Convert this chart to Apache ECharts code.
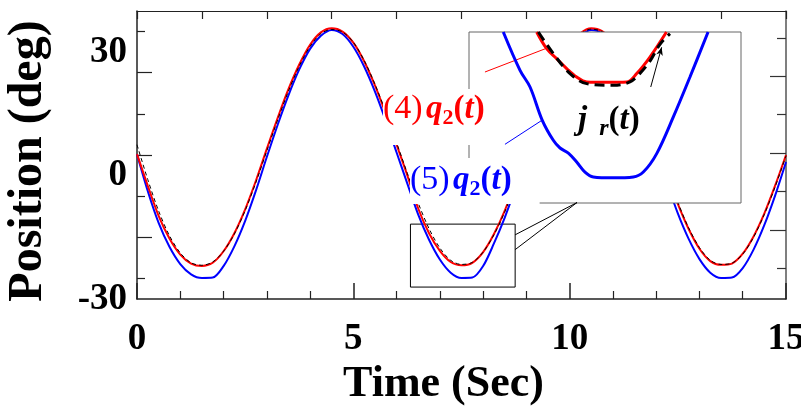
<!DOCTYPE html>
<html><head><meta charset="utf-8">
<script src="https://cdn.jsdelivr.net/npm/echarts@6/dist/echarts.min.js"></script>
<style>html,body{margin:0;padding:0;background:#fff}#c{width:801px;height:408px}</style>
</head><body><div id="c"></div>
<script>
// ---- data ----
const timeSec = [0,0.25,0.5,0.75,1,1.25,1.5,1.75,2,2.25,2.5,2.75,3,3.25,3.5,3.75,4,4.25,4.5,4.75,5,5.25,5.5,5.75,6,6.25,6.5,6.75,7,7.25,7.5,7.75,8,8.25,8.5,8.75,9,9.25,9.5,9.75,10,10.25,10.5,10.75,11,11.25,11.5,11.75,12,12.25,12.5,12.75,13,13.25,13.5,13.75,14,14.25,14.5,14.75,15];
const q2Case4 = [5.2,-2.5,-9.8,-15.3,-19.2,-21.4,-22.0,-21.2,-18.4,-14.0,-8.2,-1.2,6.5,14.0,21.0,27.0,31.8,34.8,35.8,35.0,32.3,27.8,21.9,15.0,7.5,0.0,-8.0,-14.0,-18.3,-21.0,-21.8,-21.2,-18.6,-14.2,-8.5,-1.5,6.0,13.5,20.5,26.7,31.5,34.6,35.8,35.1,32.5,28.0,22.2,15.3,7.8,0.3,-6.9,-13.0,-17.8,-20.8,-21.7,-21.4,-19.0,-14.8,-9.2,-2.4,5.0];
const q2Case5 = [5.2,-3.8,-11.5,-17.3,-21.5,-24.0,-24.9,-24.8,-22.0,-17.2,-11.0,-3.6,4.5,12.3,19.5,25.8,30.8,34.0,35.4,34.4,31.3,26.5,20.4,13.3,5.6,-2.0,-9.5,-15.6,-20.4,-23.6,-24.9,-24.8,-22.0,-16.5,-10.2,-3.0,4.5,12.0,19.0,25.4,30.5,33.9,35.4,34.6,31.6,26.8,20.7,13.6,5.9,-1.8,-9.2,-15.4,-20.3,-23.6,-24.9,-24.8,-22.5,-18.0,-12.0,-4.8,3.3];
const jRef = [7.5,-1.0,-8.6,-14.6,-18.8,-21.2,-21.8,-21.0,-18.4,-14.2,-8.5,-1.6,6.0,13.5,20.5,26.6,31.4,34.5,35.5,34.9,32.4,28.0,22.2,15.4,8.0,0.5,-6.7,-12.9,-17.6,-20.6,-21.6,-21.1,-18.6,-14.4,-8.8,-1.9,5.6,13.1,20.1,26.4,31.3,34.4,35.6,35.0,32.6,28.2,22.5,15.7,8.2,0.7,-6.5,-12.7,-17.5,-20.6,-21.6,-21.3,-19.1,-15.0,-9.4,-2.7,4.8];

const xTickLabels = [0, 5, 10, 15];
const yTickLabels = [-30, 0, 30];
const yTicksShortLeft = [-25, -5, 15, 35];
const yTicksLongLeft = [-15, 5, 25];
const yTicksShortRight = [-22.5, -3.85, 14.8, 33.4];
const yTicksLongRight = [-13.2, 5.5, 24.1];

// zoom box (main axes) and inset window
const zoomBoxT = [6.32, 8.74];
const zoomBoxDeg = [-11.8, -27.1];
const connectorStartDeg = [-14.4, -18.0];
const connectorEnd = [10.17, -6.55];

const insetBlueT = [6.625,6.774,6.863,6.972,7.070,7.130,7.204,7.278,7.352,7.426,7.600,7.782,7.871,7.990,8.138,8.286,8.447];
const insetBlueDeg = [-11.8,-15.23,-16.72,-19.70,-21.49,-22.18,-22.63,-23.43,-24.33,-24.77,-24.85,-24.77,-24.33,-22.68,-19.40,-15.83,-11.8];
const insetRedT = [6.922,7.011,7.100,7.189,7.278,7.367,7.545,7.723,7.812,7.930,8.077];
const insetRedDeg = [-11.8,-13.29,-14.18,-15.07,-15.83,-16.27,-16.30,-16.27,-15.52,-14.04,-11.8];
const insetBlackT = [6.937,7.07,7.219,7.367,7.604,7.752,7.841,7.93,8.019,8.108];
const insetBlackDeg = [-11.8,-13.73,-15.52,-16.42,-16.57,-16.27,-15.5,-14.4,-12.9,-11.94];

// pointer lines inside the inset (inset coordinates)
const redPointer = [[6.462,-15.38],[7.002,-13.285]];
const bluePointer = [[6.64,-21.85],[6.969,-19.7]];
const blackPointer = [[7.937,-16.72],[8.034,-13.17]];

// ---- chart ----
const FONT = "'Liberation Serif','Times New Roman',serif";
const pair = (xs, ys) => xs.map((x, i) => [x, ys[i]]);
const chart = echarts.init(document.getElementById('c'), null, {renderer: 'canvas'});

const axLine = {show: true, onZero: false, lineStyle: {color: '#222', width: 1.5}};
const labelStyle = {fontFamily: FONT, fontWeight: 'bold', fontSize: 37, color: '#000'};

const mainY = (extra) => Object.assign({
  type: 'value', gridIndex: 0, min: -30, max: 40,
  splitLine: {show: false}, axisLabel: {show: false}, axisLine: {show: false, onZero: false}
}, extra);

function richFor(color) {
  return {
    n: {fontFamily: FONT, fontSize: 34, lineHeight: 40, fill: color},
    q: {fontFamily: FONT, fontSize: 33, fontWeight: 'bold', fontStyle: 'italic', lineHeight: 40, fill: color},
    s: {fontFamily: FONT, fontSize: 22, fontWeight: 'bold', lineHeight: 22, verticalAlign: 'bottom', fill: color},
    si: {fontFamily: FONT, fontSize: 24, fontWeight: 'bold', fontStyle: 'italic', lineHeight: 22, verticalAlign: 'bottom', fill: color},
    p: {fontFamily: FONT, fontSize: 33, fontWeight: 'bold', lineHeight: 40, fill: color},
    t: {fontFamily: FONT, fontSize: 33, fontWeight: 'bold', fontStyle: 'italic', lineHeight: 40, fill: color},
    g: {fontFamily: FONT, fontSize: 33, lineHeight: 40, width: 12, fill: color}
  };
}

const option = {
  animation: false,
  backgroundColor: '#fff',
  grid: [
    {left: 137, top: 11, width: 649, height: 288, show: false, containLabel: false, outerBoundsMode: 'none'},
    {left: 469, top: 32, width: 272, height: 171, show: true, backgroundColor: '#fff',
     borderColor: '#666', borderWidth: 1, z: 5, containLabel: false, outerBoundsMode: 'none'}
  ],
  xAxis: [
    {type: 'value', gridIndex: 0, position: 'bottom', min: 0, max: 15, interval: 5,
     axisLine: axLine, splitLine: {show: false},
     axisTick: {show: true, inside: true, length: 16, lineStyle: {color: '#222', width: 1.5}},
     minorTick: {show: true, splitNumber: 5, length: 8, lineStyle: {color: '#222', width: 1.2}},
     axisLabel: Object.assign({margin: 22}, labelStyle),
     name: 'Time (Sec)', nameLocation: 'middle', nameGap: 60,
     nameTextStyle: {fontFamily: FONT, fontWeight: 'bold', fontSize: 44, color: '#000', padding: [0, 36, 0, 0]}},
    {type: 'value', gridIndex: 0, position: 'top', min: 0, max: 15, interval: 1.5,
     axisLine: {show: true, onZero: false, lineStyle: {color: '#222', width: 1.2}}, splitLine: {show: false},
     axisTick: {show: true, inside: true, length: 8, lineStyle: {color: '#222', width: 1.2}},
     axisLabel: {show: false}},
    {type: 'value', gridIndex: 1, min: zoomBoxT[0], max: zoomBoxT[1], show: false}
  ],
  yAxis: [
    mainY({position: 'left', axisLine: axLine,
      axisLabel: Object.assign({show: true, margin: 10, customValues: yTickLabels}, labelStyle),
      axisTick: {show: true, inside: true, length: 8, customValues: yTicksShortLeft, lineStyle: {color: '#222', width: 1.2}},
      name: 'Position (deg)', nameLocation: 'middle', nameGap: 84, nameRotate: 90,
      nameTextStyle: {fontFamily: FONT, fontWeight: 'bold', fontSize: 48, color: '#000', padding: [0, 12, 0, 0]}}),
    mainY({position: 'left',
      axisTick: {show: true, inside: true, length: 15, customValues: yTicksLongLeft, lineStyle: {color: '#222', width: 1.2}}}),
    mainY({position: 'right', axisLine: {show: true, onZero: false, lineStyle: {color: '#555', width: 1.5}},
      axisTick: {show: true, inside: true, length: 9, customValues: yTicksShortRight, lineStyle: {color: '#333', width: 1.2}}}),
    mainY({position: 'right',
      axisTick: {show: true, inside: true, length: 16, customValues: yTicksLongRight, lineStyle: {color: '#333', width: 1.2}}}),
    {type: 'value', gridIndex: 1, min: zoomBoxDeg[1], max: zoomBoxDeg[0], show: false}
  ],
  series: [
    {type: 'line', name: '(5) q2(t)', xAxisIndex: 0, yAxisIndex: 0, z: 2,
     data: pair(timeSec, q2Case5), symbol: 'none', smooth: 0.3,
     lineStyle: {color: '#0000ff', width: 2},
     markArea: {silent: true, itemStyle: {color: 'rgba(0,0,0,0)', borderColor: '#000', borderWidth: 1},
       data: [[{coord: [zoomBoxT[0], zoomBoxDeg[0]]}, {coord: [zoomBoxT[1], zoomBoxDeg[1]]}]]},
     markLine: {silent: true, symbol: 'none', label: {show: false}, lineStyle: {color: '#000', width: 1, type: 'solid'},
       data: connectorStartDeg.map(d => [{coord: [zoomBoxT[1], d]}, {coord: connectorEnd}])}},
    {type: 'line', name: '(4) q2(t)', xAxisIndex: 0, yAxisIndex: 0, z: 2,
     data: pair(timeSec, q2Case4), symbol: 'none', smooth: 0.3,
     lineStyle: {color: '#ff0000', width: 2}},
    {type: 'line', name: 'jr(t)', xAxisIndex: 0, yAxisIndex: 0, z: 2,
     data: pair(timeSec, jRef), symbol: 'none', smooth: 0.3,
     lineStyle: {color: '#000', width: 1, type: [4, 3]}},
    // inset
    {type: 'line', xAxisIndex: 2, yAxisIndex: 4, z: 6, data: pair(insetBlueT, insetBlueDeg),
     symbol: 'none', smooth: 0.35, lineStyle: {color: '#0000ff', width: 3},
     markLine: {silent: true, symbol: 'none', label: {show: false}, lineStyle: {color: '#0000ff', width: 1, type: 'solid'},
       data: [[{coord: bluePointer[0]}, {coord: bluePointer[1]}]]}},
    {type: 'line', xAxisIndex: 2, yAxisIndex: 4, z: 6, data: pair(insetRedT, insetRedDeg),
     symbol: 'none', smooth: 0.35, lineStyle: {color: '#ff0000', width: 3},
     markLine: {silent: true, symbol: 'none', label: {show: false}, lineStyle: {color: '#ff0000', width: 1, type: 'solid'},
       data: [[{coord: redPointer[0]}, {coord: redPointer[1]}]]}},
    {type: 'line', xAxisIndex: 2, yAxisIndex: 4, z: 7, data: pair(insetBlackT, insetBlackDeg),
     symbol: 'none', smooth: 0.35, lineStyle: {color: '#000', width: 3, type: [10, 6]},
     markLine: {silent: true, symbol: ['none', 'arrow'], symbolSize: [5, 8], label: {show: false}, lineStyle: {color: '#000', width: 1, type: 'solid'},
       data: [[{coord: blackPointer[0]}, {coord: blackPointer[1]}]]}}
  ],
  graphic: [
    {type: 'text', left: 383, top: 89, z: 100, style: {
      text: '{n|(4)} {q|q}{s|2}{p|(}{t|t}{p|)}', fill: '#ff0000', backgroundColor: '#fff', padding: [0, 2, 16, 0],
      rich: richFor('#ff0000')}},
    {type: 'text', left: 410, top: 158, z: 100, style: {
      text: '{n|(5)} {q|q}{s|2}{p|(}{t|t}{p|)}', fill: '#0000ff', backgroundColor: '#fff', padding: [2, 28, 4, 0],
      rich: richFor('#0000ff')}},
    {type: 'text', left: 578, top: 104, z: 100, style: {
      text: '{q|j}{g| }{si|r}{p|(}{t|t}{p|)}', fill: '#000',
      rich: richFor('#000')}}
  ]
};
chart.setOption(option);
</script>
</body></html>
